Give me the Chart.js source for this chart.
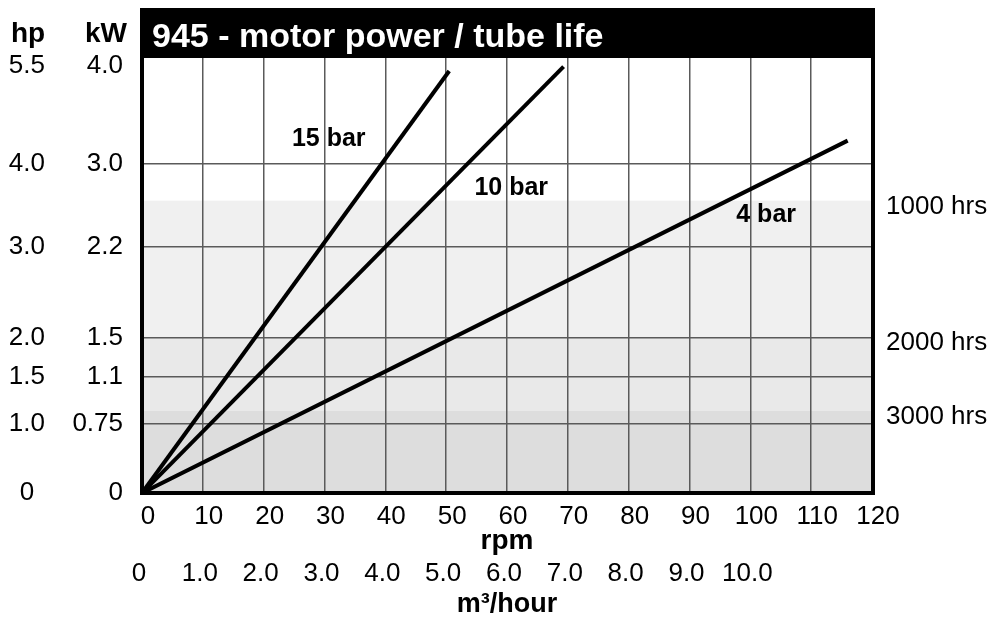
<!DOCTYPE html>
<html><head><meta charset="utf-8">
<script src="https://cdn.jsdelivr.net/npm/chart.js@4.4.1/dist/chart.umd.min.js"></script>
<style>html,body{margin:0;padding:0;background:#fff}#wrap{width:994px;height:618px}</style>
</head><body><div id="wrap"><canvas id="c" width="994" height="618"></canvas></div>
<script>
// ---- data ----
const titleText = '945 - motor power / tube life';
const rpmTicks = [0, 10, 20, 30, 40, 50, 60, 70, 80, 90, 100, 110, 120];
// kW gridlines as placed on the (linear) power axis of the original drawing
const kwTickValues = [0, 0.64, 1.07, 1.43, 2.26, 3.03, 4.0];
const kwTickLabels = ['0', '0.75', '1.1', '1.5', '2.2', '3.0', '4.0'];
const hpTickLabels = ['0', '1.0', '1.5', '2.0', '3.0', '4.0', '5.5'];
const m3hTickValues = [0, 1, 2, 3, 4, 5, 6, 7, 8, 9, 10];
const m3hTickLabels = ['0', '1.0', '2.0', '3.0', '4.0', '5.0', '6.0', '7.0', '8.0', '9.0', '10.0'];
// tube life bands (power axis boundaries) and labels
const lifeBoundaries = [0.754, 1.432, 2.688];
const lifeLabels = ['3000 hrs', '2000 hrs', '1000 hrs'];
const seriesNames = ['15 bar', '10 bar', '4 bar'];
const rpm15 = [0, 50.5], kw15 = [0, 3.88];
const rpm10 = [0, 69.3], kw10 = [0, 3.92];
const rpm4 = [0, 116.0], kw4 = [0, 3.24];

// ---- styling / helpers ----
const FONT = "'Liberation Sans', Arial, Helvetica, sans-serif";
const Y_MAX = 4.0;
const TOP_LABEL_INSET = 0.07; // the top labels sit just below the title bar
const toXY = (xs, ys) => xs.map((x, i) => ({x, y: ys[i]}));
const fixedTicks = vals => s => { s.ticks = vals.map(v => ({value: v})); };
const powerTicks = s => { s.ticks = kwTickValues.map(v => ({value: v >= Y_MAX ? Y_MAX - TOP_LABEL_INSET : v})); };

const bandsPlugin = {
  id: 'bands',
  beforeDraw(chart) {
    const {ctx, chartArea: a, scales: {y}} = chart;
    const shades = ['#dddddd', '#e9e9e9', '#f0f0f0'];
    const edges = [0].concat(lifeBoundaries);
    ctx.save();
    for (let i = 0; i < shades.length; i++) {
      const top = y.getPixelForValue(edges[i + 1]);
      const bot = y.getPixelForValue(edges[i]);
      ctx.fillStyle = shades[i];
      ctx.fillRect(a.left, top, a.right - a.left, bot - top);
    }
    ctx.restore();
  }
};

const framePlugin = {
  id: 'frame',
  beforeDatasetsDraw(chart) {
    const {ctx, chartArea: a} = chart;
    ctx.save();
    // title bar
    ctx.fillStyle = '#000';
    ctx.fillRect(a.left - 2, 8, a.right - a.left + 5, a.top - 8);
    ctx.fillStyle = '#fff';
    ctx.font = 'bold 34px ' + FONT;
    ctx.textBaseline = 'alphabetic';
    ctx.textAlign = 'left';
    ctx.fillText(titleText, a.left + 10, a.top - 11);
    // frame
    ctx.strokeStyle = '#000';
    ctx.lineWidth = 4;
    ctx.beginPath();
    ctx.moveTo(a.left, a.top);
    ctx.lineTo(a.left, a.bottom + 2);
    ctx.moveTo(a.left - 2, a.bottom);
    ctx.lineTo(a.right + 3, a.bottom);
    ctx.moveTo(a.right + 1, a.top);
    ctx.lineTo(a.right + 1, a.bottom + 2);
    ctx.stroke();
    // axis headers
    ctx.fillStyle = '#000';
    ctx.font = 'bold 28px ' + FONT;
    ctx.textAlign = 'center';
    ctx.fillText('hp', 28, 42);
    ctx.fillText('kW', 106, 42);
    ctx.restore();
  },
  afterDatasetsDraw(chart, args, opts) {
    const {ctx, scales: {x, y}} = chart;
    ctx.save();
    ctx.fillStyle = '#000';
    ctx.font = 'bold 25px ' + FONT;
    ctx.textAlign = 'center';
    ctx.textBaseline = 'middle';
    chart.data.datasets.forEach((ds, i) => {
      const at = opts.labelAt[i];
      ctx.fillText(ds.label, x.getPixelForValue(at[0]), y.getPixelForValue(at[1]));
    });
    ctx.restore();
  }
};

const tickFont = {family: FONT, size: 26};
const lineStyle = {borderColor: '#000', borderWidth: 4, pointRadius: 0, showLine: true, fill: false, tension: 0};

new Chart(document.getElementById('c'), {
  type: 'scatter',
  data: {
    datasets: [
      Object.assign({label: seriesNames[0], data: toXY(rpm15, kw15)}, lineStyle),
      Object.assign({label: seriesNames[1], data: toXY(rpm10, kw10)}, lineStyle),
      Object.assign({label: seriesNames[2], data: toXY(rpm4, kw4)}, lineStyle)
    ]
  },
  plugins: [bandsPlugin, framePlugin],
  options: {
    responsive: false,
    animation: false,
    devicePixelRatio: 1,
    layout: {padding: {top: 58, left: 0, right: 0, bottom: 0}},
    plugins: {
      legend: {display: false},
      tooltip: {enabled: false},
      frame: {labelAt: [[30.7, 3.25], [60.7, 2.80], [102.6, 2.556]]}
    },
    scales: {
      x: {
        type: 'linear', position: 'bottom', weight: 0, min: 0, max: 120,
        afterBuildTicks: fixedTicks(rpmTicks),
        afterFit: s => { s.height = 62; },
        ticks: {font: tickFont, color: '#000', padding: 8, labelOffset: 6, maxRotation: 0, autoSkip: false,
                callback: v => String(v)},
        grid: {color: '#5a5a5a', lineWidth: 1.5, drawTicks: false},
        border: {display: false},
        title: {display: true, text: 'rpm', font: {family: FONT, size: 28, weight: 'bold', lineHeight: 1.0}, color: '#000', padding: {top: 0, bottom: 0}}
      },
      x2: {
        type: 'linear', position: 'bottom', weight: 1, min: 0, max: 12,
        afterBuildTicks: fixedTicks(m3hTickValues),
        afterFit: s => { s.height = 63; },
        ticks: {font: tickFont, color: '#000', padding: 3, labelOffset: -3, maxRotation: 0, autoSkip: false,
                callback: (v, i) => m3hTickLabels[i]},
        grid: {display: false, drawTicks: false},
        border: {display: false},
        title: {display: true, text: 'm³/hour', font: {family: FONT, size: 27, weight: 'bold', lineHeight: 1.0}, color: '#000', padding: {top: 0, bottom: 0}}
      },
      y: {
        type: 'linear', position: 'left', weight: 0, min: 0, max: Y_MAX,
        afterBuildTicks: powerTicks,
        afterFit: s => { s.width = 80; },
        ticks: {font: tickFont, color: '#000', padding: 19, autoSkip: false,
                callback: (v, i) => kwTickLabels[i]},
        grid: {color: c => (c.tick && c.tick.value > Y_MAX - 0.2) ? 'rgba(0,0,0,0)' : '#5a5a5a',
               lineWidth: 1.5, drawTicks: false},
        border: {display: false}
      },
      yhp: {
        type: 'linear', position: 'left', weight: 1, min: 0, max: Y_MAX,
        afterBuildTicks: powerTicks,
        afterFit: s => { s.width = 62; },
        ticks: {font: tickFont, color: '#000', padding: 17, crossAlign: 'center', autoSkip: false,
                callback: (v, i) => hpTickLabels[i]},
        grid: {display: false, drawTicks: false},
        border: {display: false}
      },
      yhrs: {
        type: 'linear', position: 'right', weight: 0, min: 0, max: Y_MAX,
        afterBuildTicks: fixedTicks(lifeBoundaries),
        afterFit: s => { s.width = 122; },
        ticks: {font: tickFont, color: '#000', padding: 14, labelOffset: 6, autoSkip: false,
                callback: (v, i) => lifeLabels[i]},
        grid: {display: false, drawTicks: false},
        border: {display: false}
      }
    }
  }
});
</script>
</body></html>
